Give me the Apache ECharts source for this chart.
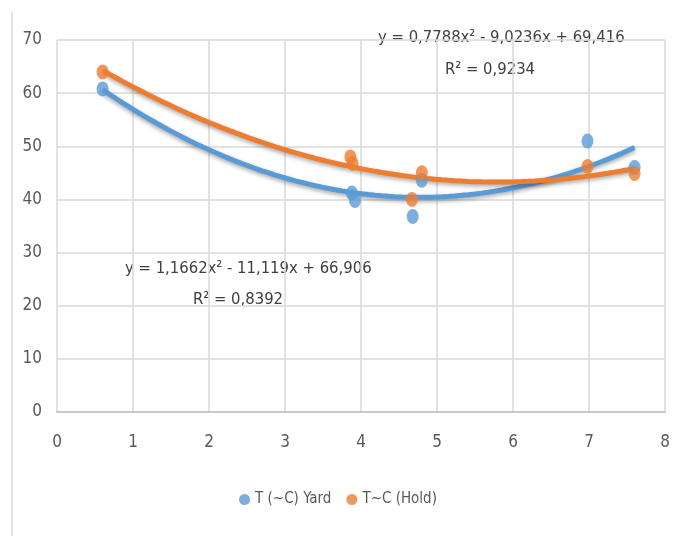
<!DOCTYPE html>
<html><head><meta charset="utf-8">
<script src="https://cdn.jsdelivr.net/npm/echarts@6/dist/echarts.min.js"></script>
<style>html,body{margin:0;padding:0;background:#fff}#c{width:676px;height:536px}</style>
</head><body><div id="c"></div>
<script>
// Data
const yardX = [0.6, 3.88, 3.92, 4.68, 4.8, 6.98, 7.6];
const yardY = [60.8, 41.2, 39.8, 36.8, 43.6, 51, 46];
const holdX = [0.6, 3.86, 3.89, 4.67, 4.8, 6.98, 7.6];
const holdY = [64, 48, 46.8, 40, 45, 46.2, 44.9];
// Trendline coefficients as displayed on the chart (a, b, c for y = a x^2 + b x + c)
const yardCoef = [1.1662, -11.119, 66.906];
const holdCoef = [0.7788, -9.0236, 69.416];
const yardEq = ['y = 1,1662x² - 11,119x + 66,906', 'R² = 0,8392'];
const holdEq = ['y = 0,7788x² - 9,0236x + 69,416', 'R² = 0,9234'];
const seriesNames = ['T (~C) Yard', 'T~C (Hold)'];
const trendRange = [0.6, 7.6];

function curve(coef) {
  const pts = [];
  const n = 80;
  for (let i = 0; i <= n; i++) {
    const x = trendRange[0] + (trendRange[1] - trendRange[0]) * i / n;
    pts.push([x, coef[0] * x * x + coef[1] * x + coef[2]]);
  }
  return pts;
}
const zip = (xs, ys) => xs.map((x, i) => [x, ys[i]]);

const FONT = '"Liberation Sans Narrow", "DejaVu Sans Condensed", "Liberation Sans", sans-serif';
const BLUE = '#5B9BD5', ORANGE = '#ED7D31';
const chart = echarts.init(document.getElementById('c'));
chart.setOption({
  animation: false,
  backgroundColor: '#fff',
  grid: { left: 57, right: 11, top: 40, bottom: 124, containLabel: false },
  xAxis: {
    type: 'value', min: 0, max: 8, interval: 1,
    axisLine: { show: true, lineStyle: { color: '#c8c8c8', width: 2 } },
    axisTick: { show: false },
    splitLine: { show: true, lineStyle: { color: '#d9d9d9', width: 1.5 } },
    axisLabel: { color: '#595959', fontSize: 17, fontFamily: FONT, margin: 22 }
  },
  yAxis: {
    type: 'value', min: 0, max: 70, interval: 10,
    axisLine: { show: false },
    axisTick: { show: false },
    splitLine: { show: true, lineStyle: { color: '#d9d9d9', width: 1.5 } },
    axisLabel: { color: '#595959', fontSize: 17, fontFamily: FONT, margin: 15 }
  },
  legend: {
    bottom: 24, left: 'center', itemWidth: 11, itemHeight: 11, itemGap: 15,
    icon: 'circle',
    textStyle: { color: '#595959', fontSize: 15, fontFamily: FONT },
    data: seriesNames
  },
  graphic: [
    { type: 'line', shape: { x1: 12, y1: 12, x2: 12, y2: 536 }, style: { stroke: '#d9d9d9', lineWidth: 1.5 } },
    { type: 'text', left: 378, top: 29, style: { text: holdEq[0], fill: '#404040', fontSize: 16.5, fontFamily: FONT } },
    { type: 'text', left: 445, top: 61, style: { text: holdEq[1], fill: '#404040', fontSize: 16.5, fontFamily: FONT } },
    { type: 'text', left: 125, top: 260, style: { text: yardEq[0], fill: '#404040', fontSize: 16.5, fontFamily: FONT } },
    { type: 'text', left: 193, top: 291, style: { text: yardEq[1], fill: '#404040', fontSize: 16.5, fontFamily: FONT } }
  ],
  series: [
    {
      name: seriesNames[0] + ' trend', type: 'line', data: curve(yardCoef), showSymbol: false, smooth: false,
      lineStyle: { color: BLUE, width: 5, shadowColor: 'rgba(0,0,0,0.35)', shadowBlur: 4, shadowOffsetY: 2 }, z: 2, silent: true
    },
    {
      name: seriesNames[1] + ' trend', type: 'line', data: curve(holdCoef), showSymbol: false, smooth: false,
      lineStyle: { color: ORANGE, width: 5, shadowColor: 'rgba(0,0,0,0.35)', shadowBlur: 4, shadowOffsetY: 2 }, z: 2, silent: true
    },
    {
      name: seriesNames[0], type: 'scatter', data: zip(yardX, yardY), symbol: 'circle', symbolSize: [12, 15],
      itemStyle: { color: BLUE }, z: 3
    },
    {
      name: seriesNames[1], type: 'scatter', data: zip(holdX, holdY), symbol: 'circle', symbolSize: [12, 15],
      itemStyle: { color: ORANGE }, z: 3
    }
  ]
});
</script></body></html>
